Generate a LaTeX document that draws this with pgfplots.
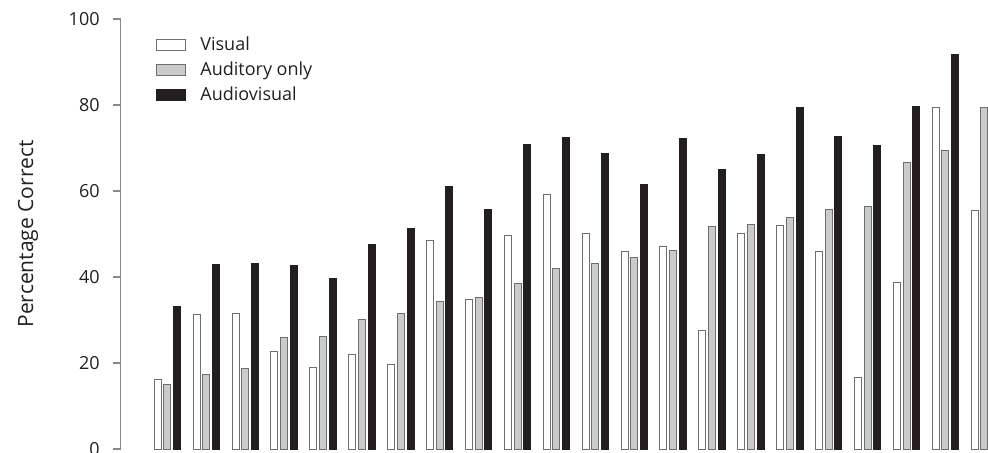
\documentclass[border=0pt]{standalone}
\usepackage{pgfplots}
\pgfplotsset{compat=1.18}
\usepackage{fontspec}
\setmainfont{Open Sans}
\definecolor{axgray}{HTML}{8A8A8A}
\definecolor{outl}{HTML}{6E6E6E}
\definecolor{lgray}{HTML}{CBCBCB}
\definecolor{blk}{HTML}{231F20}
\pgfplotsset{mylegend/.style={legend image code/.code={\draw[##1] (0pt,0pt) rectangle (14.5pt,5.5pt);}}}
\begin{document}
\fontsize{9}{11}\selectfont
\begin{tikzpicture}
\begin{axis}[
  at={(60.35pt,1.5pt)}, anchor=south west,
  scale only axis, width=433.65pt, height=215pt,
  xmin=-0.203, xmax=22.093, ymin=0, ymax=100,
  axis x line=none, axis y line=left,
  y axis line style={-, draw=axgray, line width=0.6pt},
  ytick={0,20,40,60,80,100}, xtick=\empty,
  tick style={draw=axgray, line width=0.6pt},
  major tick length=4pt, tick align=outside,
  /pgf/number format/assume math mode=true,
  yticklabel style={font=\fontsize{9}{11}\selectfont, text=blk, inner sep=0pt, xshift=-6.35pt},
  ylabel={Percentage Correct},
  every axis y label/.style={at={(axis description cs:-0.1011,0.5)}, anchor=base, rotate=90, font=\fontsize{10.5}{12}\selectfont, text=blk},
  legend style={at={(axis description cs:0.0407,0.9605)}, anchor=north west, draw=none, fill=none, inner sep=0pt, row sep=3pt, column sep=7pt, nodes={inner sep=0pt, text height=7pt, text depth=2.5pt, anchor=base west, text=blk, font=\fontsize{9}{11}\selectfont}},
  legend cell align=left,
  clip=true,
]
\addplot[ybar, bar width=3.5pt, bar shift=-4.85pt, fill=white, draw=outl, line width=0.5pt, mylegend] coordinates {
(1,16.2) (2,31.3) (3,31.5) (4,22.6) (5,18.9) (6,22.0) (7,19.7) (8,48.4) (9,34.7) (10,49.6) (11,59.3)
(12,50.2) (13,45.9) (14,47.0) (15,27.6) (16,50.1) (17,51.9) (18,45.9) (19,16.6) (20,38.8) (21,79.4) (22,55.5)};
\addlegendentry{Visual}
\addplot[ybar, bar width=3.5pt, bar shift=0pt, fill=lgray, draw=outl, line width=0.5pt, mylegend] coordinates {
(1,15.0) (2,17.3) (3,18.8) (4,25.9) (5,26.1) (6,30.2) (7,31.5) (8,34.3) (9,35.2) (10,38.6) (11,42.0)
(12,43.2) (13,44.5) (14,46.1) (15,51.8) (16,52.3) (17,53.9) (18,55.6) (19,56.3) (20,66.6) (21,69.5) (22,79.4)};
\addlegendentry{Auditory only}
\addplot[ybar, bar width=3.5pt, bar shift=4.85pt, fill=blk, draw=blk, line width=0.5pt, mylegend] coordinates {
(1,33.1) (2,42.8) (3,43.2) (4,42.6) (5,39.7) (6,47.6) (7,51.3) (8,61.0) (9,55.7) (10,70.8) (11,72.5)
(12,68.8) (13,61.6) (14,72.3) (15,65.1) (16,68.5) (17,79.5) (18,72.6) (19,70.5) (20,79.7) (21,91.8)};
\addlegendentry{Audiovisual}
\end{axis}
\pgfresetboundingbox
\useasboundingbox (0pt,0pt) rectangle (494pt,226pt);
\end{tikzpicture}
\end{document}
